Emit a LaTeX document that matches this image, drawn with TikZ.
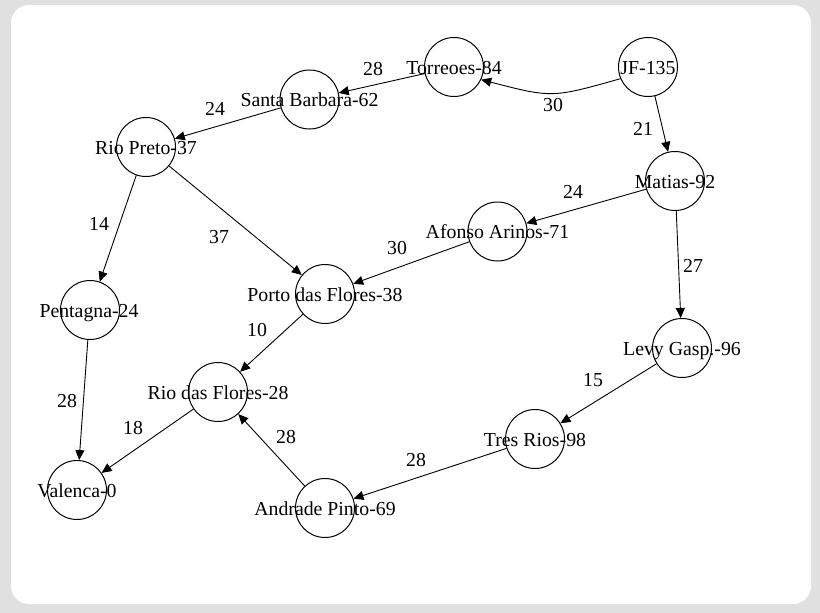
\documentclass[tikz,border=0pt]{standalone}
\usepackage{fontspec}
\setmainfont{Liberation Serif}
\usetikzlibrary{arrows.meta}
\definecolor{bggray}{RGB}{224,224,224}
\begin{document}
\begin{tikzpicture}[x=1pt,y=-1pt,
  city/.style={circle,draw,line width=1pt,minimum size=59pt,inner sep=0pt},
  lbl/.style={font=\fontsize{19.8}{24}\selectfont,text height=0.66em,text depth=0pt,inner sep=0pt,yshift=-4pt},
  wt/.style={lbl},
  edge/.style={-{Triangle[length=10pt,width=9pt]},line width=0.9pt}]
\fill[bggray] (0,0) rectangle (820,613);
\useasboundingbox (0,0) rectangle (820,613);
\fill[white,rounded corners=18pt] (11,5) rectangle (811,604);

% circles
\node[city] (jf)   at (648,67) {};
\node[city] (tor)  at (454,67) {};
\node[city] (sb)   at (309.5,99.5) {};
\node[city] (rp)   at (146,147) {};
\node[city] (mat)  at (675,181) {};
\node[city] (aa)   at (497.5,231.5) {};
\node[city] (pen)  at (90,310) {};
\node[city] (pf)   at (325,294) {};
\node[city] (levy) at (682,348) {};
\node[city] (rf)   at (218,392) {};
\node[city] (tr)   at (535,439) {};
\node[city] (val)  at (77,490) {};
\node[city] (ap)   at (325,508) {};

% edges
\coordinate (c30) at (552,98);
\draw[edge] (jf.203) .. controls (c30) .. (tor.-25);
\draw[edge] (jf) -- (mat);
\draw[edge] (tor) -- (sb);
\draw[edge] (sb) -- (rp);
\draw[edge] (rp) -- (pen);
\draw[edge] (rp) -- (pf);
\draw[edge] (mat) -- (aa);
\draw[edge] (mat) -- (levy);
\draw[edge] (aa) -- (pf);
\draw[edge] (pf) -- (rf);
\draw[edge] (pen) -- (val);
\draw[edge] (rf) -- (val);
\draw[edge] (ap) -- (rf);
\draw[edge] (tr) -- (ap);
\draw[edge] (levy) -- (tr);

% city labels
\node[lbl] (jft)   at (jf)   {JF-135};
\node[lbl] (tort)  at (tor)  {Torreoes-84};
\node[lbl] (sbt)   at (sb)   {Santa Barbara-62};
\node[lbl] (rpt)   at (rp)   {Rio Preto-37};
\node[lbl] (matt)  at (mat)  {Matias-92};
\node[lbl] (aat)   at (aa)   {Afonso Arinos-71};
\node[lbl] (pent)  at (89,310) {Pentagna-24};
\node[lbl] (pft)   at (pf)   {Porto das Flores-38};
\node[lbl] (levyt) at (levy) {Levy Gasp.-96};
\node[lbl] (rft)   at (rf)   {Rio das Flores-28};
\node[lbl] (trt)   at (tr)   {Tres Rios-98};
\node[lbl] (valt)  at (val)  {Valenca-0};
\node[lbl] (apt)   at (ap)   {Andrade Pinto-69};

% weights
\node[wt] (w1)  at (553,104) {30};
\node[wt] (w2)  at (643,128) {21};
\node[wt] (w3)  at (373,68)  {28};
\node[wt] (w4)  at (215,108) {24};
\node[wt] (w5)  at (99,223)  {14};
\node[wt] (w6)  at (219,236) {37};
\node[wt] (w7)  at (573,191) {24};
\node[wt] (w8)  at (693,265) {27};
\node[wt] (w9)  at (397,247) {30};
\node[wt] (w10) at (257,329) {10};
\node[wt] (w11) at (67,400)  {28};
\node[wt] (w12) at (133,427) {18};
\node[wt] (w13) at (286,436) {28};
\node[wt] (w14) at (416,459) {28};
\node[wt] (w15) at (593,379) {15};
\end{tikzpicture}
\end{document}
